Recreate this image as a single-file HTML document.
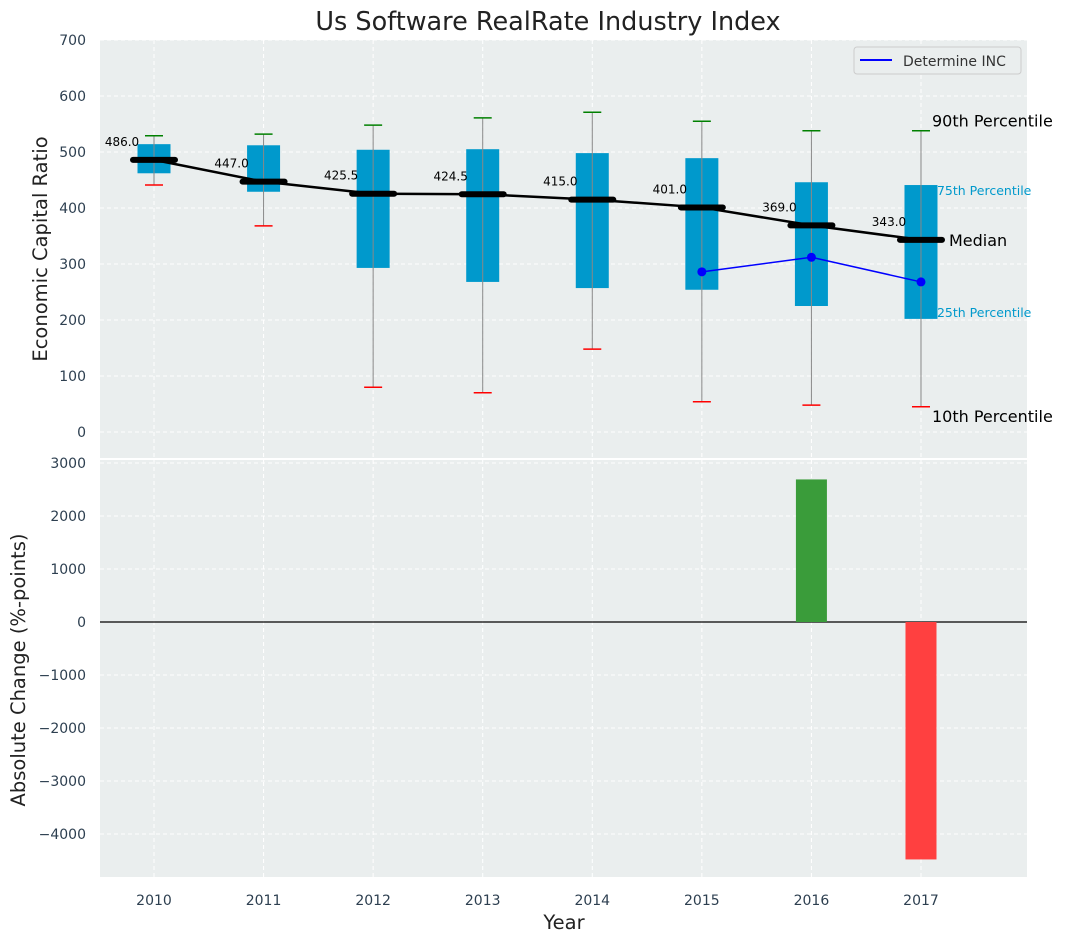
<!DOCTYPE html>
<html><head><meta charset="utf-8"><style>
body{margin:0;background:#fff;}
svg text{font-family:"DejaVu Sans","Liberation Sans",sans-serif;}
</style></head><body>
<svg id="chart" width="1067" height="942" xmlns="http://www.w3.org/2000/svg">
<text x="548" y="30" font-size="25.5" text-anchor="middle" fill="#222">Us Software RealRate Industry Index</text>
<rect x="100" y="40" width="927" height="418" fill="#eaeeee"/>
<rect x="100" y="460" width="927" height="417" fill="#eaeeee"/>
<g id="grid"></g><g id="marks"></g>
<text transform="translate(47,249) rotate(-90)" font-size="19.5" text-anchor="middle" fill="#222">Economic Capital Ratio</text>
<text transform="translate(25,670) rotate(-90)" font-size="19.5" text-anchor="middle" fill="#222">Absolute Change (%-points)</text>
<text x="564" y="929" font-size="19.5" text-anchor="middle" fill="#222">Year</text>
<g>
<rect x="854" y="47" width="167" height="27" rx="3" fill="#eaeeee" stroke="#ccc"/>
<line x1="860" y1="60" x2="892" y2="60" stroke="#0000ff" stroke-width="2"/>
<text x="903" y="66" font-size="14" fill="#333">Determine INC</text>
</g>
</svg>
<script>
const years=[2010,2011,2012,2013,2014,2015,2016,2017];
const medians=[486.0,447.0,425.5,424.5,415.0,401.0,369.0,343.0];
const q1=[462,429,293,268,257,254,225,202];
const q3=[514,512,504,505,498,489,446,441];
const p10=[441,368,80,70,148,54,48,45];
const p90=[529,532,548,561,571,555,538,538];
const incYears=[2015,2016,2017];
const incValues=[286,312,268];
const changeYears=[2016,2017];
const changeValues=[2690,-4480];
const topTicks=[0,100,200,300,400,500,600,700];
const bottomTicks=[3000,2000,1000,0,-1000,-2000,-3000,-4000];

const NS="http://www.w3.org/2000/svg";
const X=y=>154+(y-2010)*109.57;
const Y1=v=>432-v*0.56;
const Y2=v=>622-v*0.053;
const grid=document.getElementById('grid'),marks=document.getElementById('marks');
function mk(p,t,a){const e=document.createElementNS(NS,t);for(const k in a)e.setAttribute(k,a[k]);p.appendChild(e);return e;}
topTicks.forEach(v=>{
 const l=mk(grid,'line',{x1:100,x2:1027,y1:Y1(v),y2:Y1(v),stroke:'#fff','stroke-dasharray':'4,3'});
 
 
 const t=mk(grid,'text',{x:86,y:Y1(v)+5,'font-size':14,'text-anchor':'end',fill:'#2d3f50'});t.textContent=v;
 
 
});
bottomTicks.forEach(v=>{
 const l=mk(grid,'line',{x1:100,x2:1027,y1:Y2(v),y2:Y2(v),stroke:'#fff','stroke-dasharray':'4,3'});
 
 
 const t=mk(grid,'text',{x:86,y:Y2(v)+5,'font-size':14,'text-anchor':'end',fill:'#2d3f50'});t.textContent=(v<0?'\u2212'+(-v):v);
 
 
});
years.forEach(y=>{
 [[40,458],[460,877]].forEach(r=>{const l=mk(grid,'line',{x1:X(y),x2:X(y),y1:r[0],y2:r[1],stroke:'#fff','stroke-dasharray':'4,3'});
 
 });
 const t=mk(grid,'text',{x:X(y),y:905,'font-size':14,'text-anchor':'middle',fill:'#2d3f50'});t.textContent=y;
 
 
});
mk(grid,'line',{x1:100,x2:1027,y1:Y2(0),y2:Y2(0),stroke:'#000','stroke-width':1.2});
years.forEach((y,i)=>{
 const x=X(y);
 const b=mk(marks,'rect',{x:x-16.5,y:Y1(q3[i]),width:33,height:Y1(q1[i])-Y1(q3[i]),fill:'#0099cc'});
 
 
 const w=mk(marks,'line',{x1:x,x2:x,y1:Y1(p90[i]),y2:Y1(p10[i]),stroke:'#888','stroke-width':1});
 
 
 const c1=mk(marks,'line',{x1:x-9,x2:x+9,y1:Y1(p90[i]),y2:Y1(p90[i]),stroke:'#008000','stroke-width':1.5});
 
 
 const c2=mk(marks,'line',{x1:x-9,x2:x+9,y1:Y1(p10[i]),y2:Y1(p10[i]),stroke:'#ff0000','stroke-width':1.5});
 
 
});
const ml=mk(marks,'polyline',{points:years.map((y,i)=>X(y)+','+Y1(medians[i])).join(' '),fill:'none',stroke:'#000','stroke-width':2.5});


years.forEach((y,i)=>{
 const x=X(y);
 const m=mk(marks,'line',{x1:x-21,x2:x+21,y1:Y1(medians[i]),y2:Y1(medians[i]),stroke:'#000','stroke-width':6,'stroke-linecap':'round'});
 
 
 const t=mk(marks,'text',{x:x-32,y:Y1(medians[i])-14,'font-size':12,'text-anchor':'middle',fill:'#000'});t.textContent=medians[i].toFixed(1);
 
 
});
const il=mk(marks,'polyline',{points:incYears.map((y,i)=>X(y)+','+Y1(incValues[i])).join(' '),fill:'none',stroke:'#0000ff','stroke-width':1.5});


incYears.forEach((y,i)=>{const c=mk(marks,'circle',{cx:X(y),cy:Y1(incValues[i]),r:4.5,fill:'#0000ff'});
 
 });
changeYears.forEach((y,i)=>{
 const v=changeValues[i];
 const r=mk(marks,'rect',{x:X(y)-15.5,y:Math.min(Y2(v),Y2(0)),width:31,height:Math.abs(Y2(v)-Y2(0)),fill:v>=0?'#3a9c3a':'#ff4040'});
 
 
});
const L=years.length-1,lx=X(years[L]);
[['90th Percentile',lx+11,Y1(p90[L])-4,16,'#000'],['75th Percentile',lx+16,Y1(q3[L])+10,12.5,'#0099cc'],['Median',lx+28,Y1(medians[L])+6,16,'#000'],['25th Percentile',lx+16,Y1(q1[L])-2,12.5,'#0099cc'],['10th Percentile',lx+11,Y1(p10[L])+15,16,'#000']].forEach(a=>{
 const t=mk(marks,'text',{x:a[1],y:a[2],'font-size':a[3],fill:a[4]});t.textContent=a[0];
 
 
});
</script>
</body></html>
